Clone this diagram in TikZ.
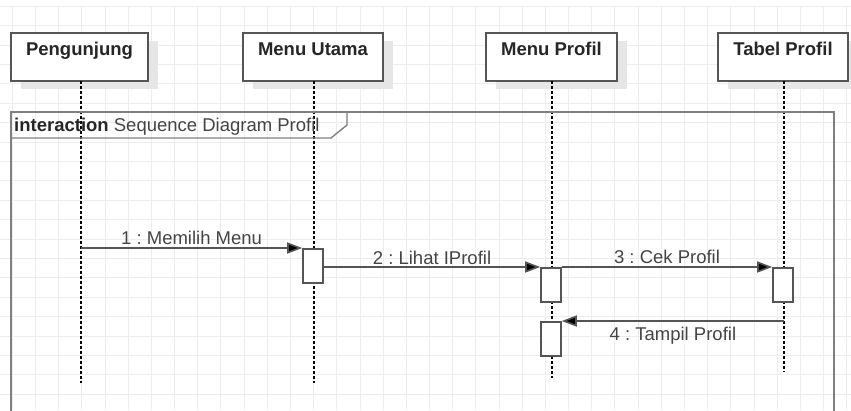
\documentclass[tikz,border=0pt]{standalone}
\usepackage{fontspec}
\setmainfont{Liberation Sans}
\frenchspacing
\usetikzlibrary{arrows.meta,calc}
\definecolor{gridc}{HTML}{EDEDED}
\definecolor{shadowc}{HTML}{E6E6E6}
\definecolor{linec}{HTML}{555555}
\definecolor{framec}{HTML}{808080}
\definecolor{txtc}{HTML}{444444}
\tikzset{
  actorbox/.style={draw=linec, line width=1.6pt, fill=white, minimum height=48pt, inner sep=0pt},
  actortitle/.style={font=\fontsize{18.5}{21}\selectfont\bfseries, text=black!85, inner sep=0pt, anchor=base},
  shadowbox/.style={fill=shadowc, draw=none},
  lifeline/.style={draw=black, line width=1.3pt, dash pattern=on 3pt off 2pt},
  actbox/.style={draw=linec, line width=1.6pt, fill=white, minimum width=20pt, minimum height=34pt, inner sep=0pt, anchor=north},
  msg/.style={draw=linec, line width=1.6pt, -{Triangle[length=15pt,width=11pt,fill=black]}},
  msglabel/.style={font=\fontsize{18.5}{21}\selectfont, text=txtc, inner sep=0pt},
  framestyle/.style={draw=framec, line width=1.8pt},
}
\begin{document}
\begin{tikzpicture}[x=1pt,y=-1pt]
\useasboundingbox (0,0) rectangle (851,410);
% grid
\begin{scope}
\clip (0,6.3) rectangle (851,410);
\foreach \k in {0,...,36} { \draw[gridc, line width=1pt] ({12.3+23.18*\k},6.3) -- ({12.3+23.18*\k},410); }
\foreach \k in {0,...,21} { \draw[gridc, line width=1pt] (0,{6.3+19.4*\k}) -- (851,{6.3+19.4*\k}); }
\end{scope}
% shadows
\fill[shadowbox] (21,41) rectangle (158,89);
\fill[shadowbox] (253,41) rectangle (393,89);
\fill[shadowbox] (496,41) rectangle (627,89);
\fill[shadowbox] (728,41) rectangle (851,89);
% actors
\node[actorbox, minimum width=137pt] (pg) at (79.5,57) {};
\node[actorbox, minimum width=140pt] (mu) at (313,57) {};
\node[actorbox, minimum width=131pt] (mp) at (551.5,57) {};
\node[actorbox, minimum width=130pt] (tp) at (783,57) {};
\node[actortitle] (pgt) at (79.5,55.5) {Pengunjung};
\node[actortitle] (mut) at (313,55.5) {Menu Utama};
\node[actortitle] (mpt) at (551.5,55.5) {Menu Profil};
\node[actortitle] (tpt) at (783,55.5) {Tabel Profil};
% lifeline ends
\coordinate (pgl) at (81,81);
\coordinate (mul) at (314,81);
\coordinate (mpl) at (552,81);
\coordinate (tpl) at (784,81);
\coordinate (pge) at (81,383);
\coordinate (mue) at (314,383);
\coordinate (mpe) at (552,378);
\coordinate (tpe) at (784,372);
\draw[lifeline] (pgl) -- (pge);
\draw[lifeline] (mul) -- (mue);
\draw[lifeline] (mpl) -- (mpe);
\draw[lifeline] (tpl) -- (tpe);
% frame
\draw[framestyle] (11,412) -- (11,112) -- (834,112) -- (834,412);
\draw[framestyle, line width=1.4pt] (11,138) -- (331,138) -- (347,125) -- (347,112);
\node[inner sep=0pt, anchor=base west, font=\fontsize{18.5}{21}\selectfont, text=txtc] (flabel) at (14,131.5) {\textbf{\color{black!85}interaction} Sequence Diagram Profil};
% activations
\node[actbox] (a1) at (313,248) {};
\node[actbox] (a2) at (551,267) {};
\node[actbox] (a3) at (783,267) {};
\node[actbox] (a4) at (551,321) {};
% messages
\draw[msg] (pgl |- a1.north west) -- node[msglabel, yshift=10pt] (l1) {1 : Memilih Menu} (a1.north west);
\draw[msg] (a1.east |- a2.north west) -- node[msglabel, yshift=9.5pt] (l2) {2 : Lihat IProfil} (a2.north west);
\draw[msg] (a2.north east) -- node[msglabel, yshift=10pt] (l3) {3 : Cek Profil} (a3.north west);
\draw[msg] (tpl |- a4.north east) -- node[msglabel, yshift=-15pt] (l4) {4 : Tampil Profil} (a4.north east);
\end{tikzpicture}
\end{document}
